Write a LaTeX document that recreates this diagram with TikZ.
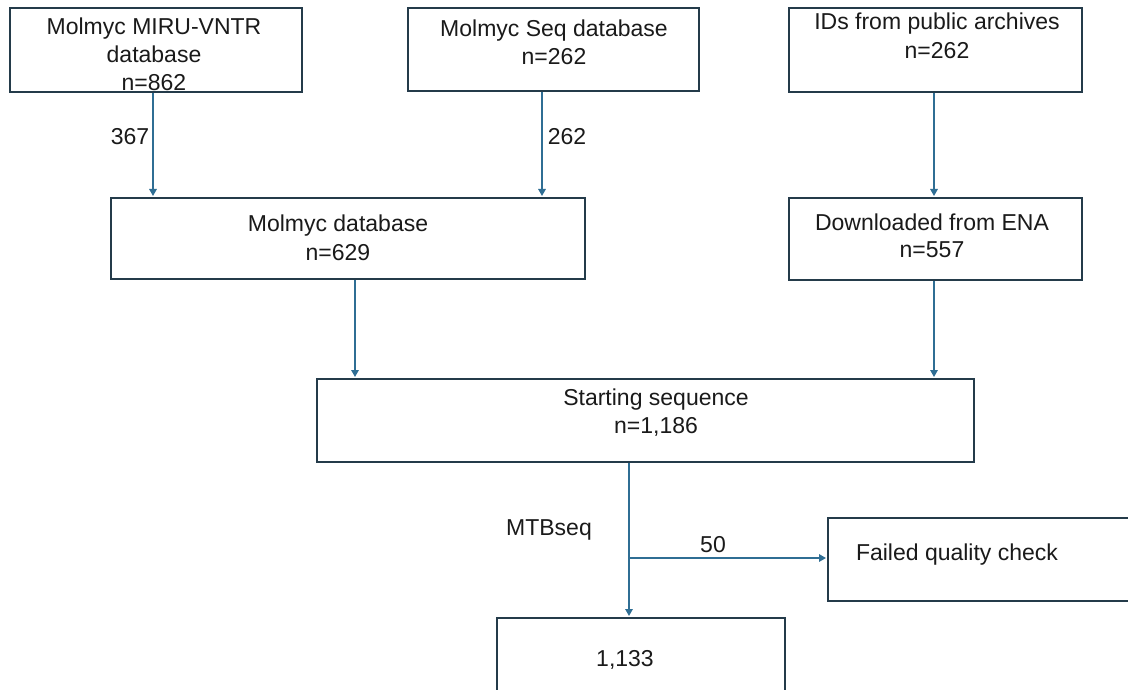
\documentclass[tikz,border=0pt]{standalone}
\usepackage{fontspec}
\setmainfont{Liberation Sans}
\usetikzlibrary{arrows.meta}
\definecolor{boxline}{HTML}{243B4A}
\definecolor{flow}{HTML}{2F6E94}
\definecolor{ink}{HTML}{1A1A1A}
\tikzset{
  box/.style={draw=boxline, line width=1.8pt, anchor=north west, inner sep=0pt, fill=none},
  txt/.style={text=ink, anchor=base, inner sep=0pt, font=\fontsize{23}{27.5}\selectfont},
  flowline/.style={draw=flow, line width=1.5pt},
  arr/.style={flowline, -{Triangle[width=7.5pt,length=7pt]}, shorten >=1pt}
}
\begin{document}
\begin{tikzpicture}[x=1pt,y=-1pt]
\useasboundingbox (0,0) rectangle (1128,690);
\clip (0,0) rectangle (1128,690);
\fill[white] (0,0) rectangle (1128,690);

% boxes
\node[box, minimum width=292pt, minimum height=84pt] (b1) at (9,7) {};
\node[box, minimum width=291pt, minimum height=83pt] (b2) at (407,7) {};
\node[box, minimum width=293pt, minimum height=84pt] (b3) at (788,7) {};
\node[box, minimum width=474pt, minimum height=81pt] (b4) at (110,197) {};
\node[box, minimum width=293pt, minimum height=82pt] (b5) at (788,197) {};
\node[box, minimum width=657pt, minimum height=83pt] (b6) at (316,378) {};
\node[box, minimum width=320pt, minimum height=83pt] (b8) at (827,517) {};
\node[box, minimum width=288pt, minimum height=90pt] (b7) at (496,617) {};

% box texts (placed on their baselines)
\node[txt] (t1a) at (154,35) {Molmyc MIRU-VNTR};
\node[txt] (t1b) at (154,63) {database};
\node[txt] (t1c) at (154,91) {n=862};
\node[txt] (t2a) at (554,37) {Molmyc Seq database};
\node[txt] (t2b) at (554,65) {n=262};
\node[txt] (t3a) at (937,30) {IDs from public archives};
\node[txt] (t3b) at (937,59) {n=262};
\node[txt] (t4a) at (338,232) {Molmyc database};
\node[txt] (t4b) at (338,260) {n=629};
\node[txt] (t5a) at (932,230) {Downloaded from ENA};
\node[txt] (t5b) at (932,258) {n=557};
\node[txt] (t6a) at (656,405) {Starting sequence};
\node[txt] (t6b) at (656,433) {n=1,186};
\node[txt] (t8) at (957,560) {Failed quality check};
\node[txt] (t7) at (625,666) {1,133};

% connector x positions
\coordinate (x1) at (153,0);
\coordinate (x2) at (542,0);
\coordinate (x3) at (934,0);
\coordinate (x4) at (355,0);
\coordinate (x5) at (934,0);
\coordinate (br) at (629,558);

% connectors
\draw[arr] (b1.south -| x1) -- (b4.north -| x1);
\draw[arr] (b2.south -| x2) -- (b4.north -| x2);
\draw[arr] (b3.south -| x3) -- (b5.north -| x3);
\draw[arr] (b4.south -| x4) -- (b6.north -| x4);
\draw[arr] (b5.south -| x5) -- (b6.north -| x5);
\draw[arr] (b6.south -| br) -- (b7.north -| br);
\draw[arr] (br) -- (b8.west |- br);

% connector labels
\node[txt] (l1) at (130,145) {367};
\node[txt] (l2) at (567,145) {262};
\node[txt] (l3) at (549,535) {MTBseq};
\node[txt] (l4) at (713,552) {50};
\end{tikzpicture}
\end{document}
